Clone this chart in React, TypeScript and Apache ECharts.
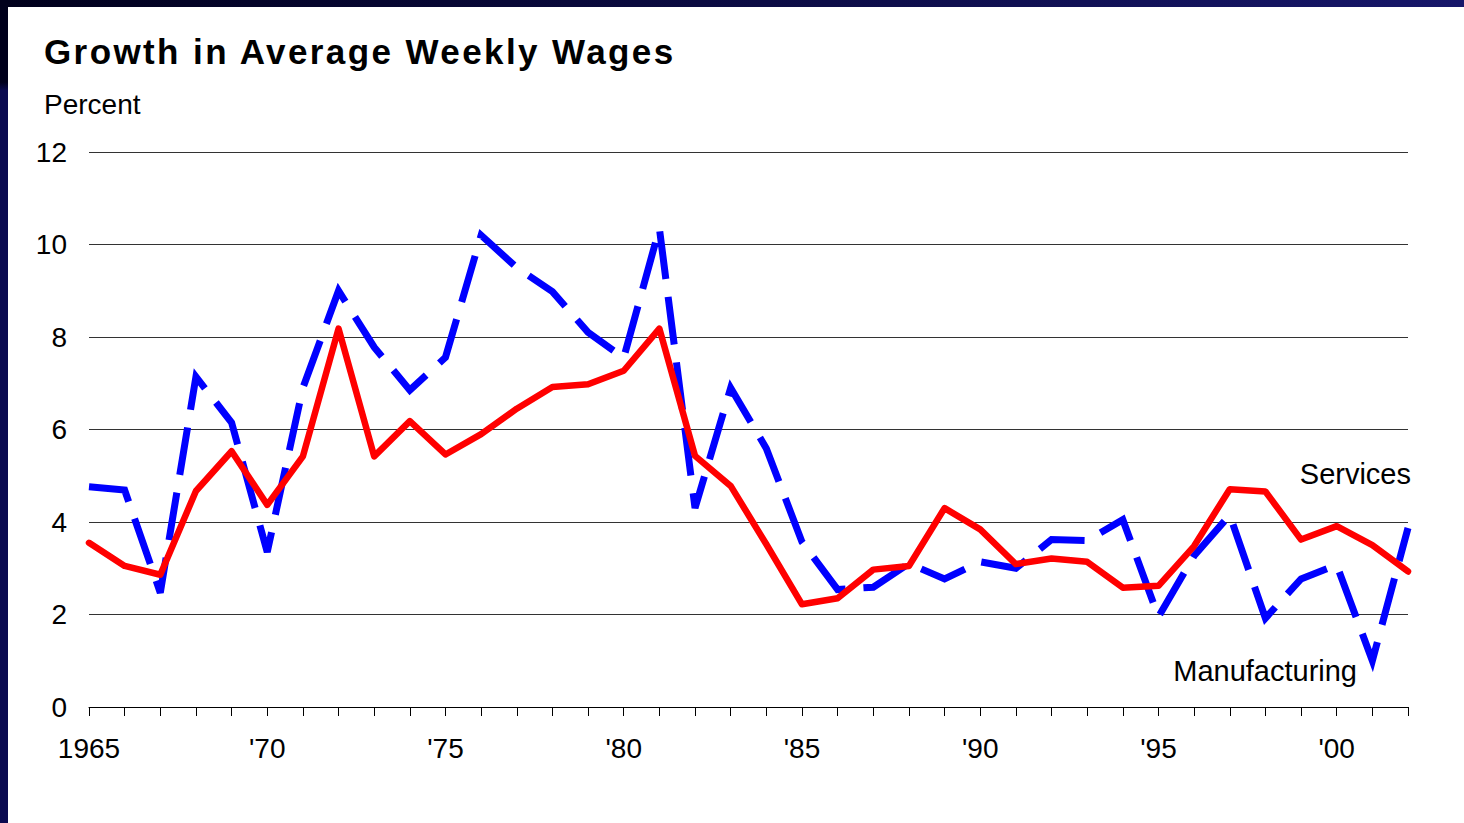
import React, { useEffect, useRef } from "react";
import * as echarts from "echarts";

const TITLE = "Growth in Average Weekly Wages";
const UNIT_LABEL = "Percent";

const years = [
  "1965", "1966", "1967", "1968", "1969", "1970", "1971", "1972", "1973", "1974",
  "1975", "1976", "1977", "1978", "1979", "1980", "1981", "1982", "1983", "1984",
  "1985", "1986", "1987", "1988", "1989", "1990", "1991", "1992", "1993", "1994",
  "1995", "1996", "1997", "1998", "1999", "2000", "2001", "2002",
];

const labeledYears: Record<string, string> = {
  "1965": "1965",
  "1970": "'70",
  "1975": "'75",
  "1980": "'80",
  "1985": "'85",
  "1990": "'90",
  "1995": "'95",
  "2000": "'00",
};

const services = [
  3.55, 3.05, 2.86, 4.67, 5.53, 4.37, 5.42, 8.18, 5.42, 6.18,
  5.46, 5.9, 6.45, 6.92, 6.98, 7.27, 8.18, 5.43, 4.78, 3.52,
  2.22, 2.35, 2.97, 3.05, 4.3, 3.84, 3.09, 3.21, 3.14, 2.58,
  2.62, 3.48, 4.71, 4.66, 3.62, 3.91, 3.5, 2.93,
];

const manufacturing = [
  4.76, 4.69, 2.47, 7.14, 6.15, 3.35, 6.9, 9.0, 7.78, 6.85,
  7.56, 10.2, 9.5, 8.98, 8.1, 7.55, 10.35, 4.3, 6.9, 5.59,
  3.57, 2.54, 2.59, 3.1, 2.77, 3.14, 3.0, 3.62, 3.6, 4.05,
  1.95, 3.27, 4.15, 1.92, 2.77, 3.07, 1.0, 3.87,
];

const FONT = "'Liberation Sans', Arial, sans-serif";

export default function App() {
  const ref = useRef<HTMLDivElement>(null);

  useEffect(() => {
    if (!ref.current) return;
    const chart = echarts.init(ref.current, null, { renderer: "svg" });
    const option: any = {
      animation: false,
      backgroundColor: "#ffffff",
      grid: { left: 89, right: 56, top: 152, bottom: 116, containLabel: false },
      xAxis: {
        type: "category",
        data: years,
        boundaryGap: false,
        axisLine: { show: true, lineStyle: { color: "#000000", width: 1 } },
        axisTick: {
          show: true,
          interval: 0,
          length: 9,
          inside: false,
          lineStyle: { color: "#000000", width: 1 },
        },
        axisLabel: {
          interval: (idx: number, val: string) => labeledYears[val] !== undefined,
          formatter: (val: string) => labeledYears[val] ?? "",
          color: "#000000",
          fontFamily: FONT,
          fontSize: 28,
          margin: 27,
        },
        splitLine: { show: false },
      },
      yAxis: {
        type: "value",
        min: 0,
        max: 12,
        interval: 2,
        axisLine: { show: false },
        axisTick: { show: false },
        axisLabel: {
          color: "#000000",
          fontFamily: FONT,
          fontSize: 28,
          margin: 22,
        },
        splitLine: { show: true, lineStyle: { color: "#333333", width: 1 } },
      },
      series: [
        {
          name: "Manufacturing",
          type: "line",
          data: manufacturing,
          symbol: "none",
          showSymbol: false,
          lineStyle: {
            color: "#0000ff",
            width: 7,
            type: [48, 18],
            dashOffset: 0,
            cap: "butt",
            join: "miter",
          },
          z: 2,
        },
        {
          name: "Services",
          type: "line",
          data: services,
          symbol: "none",
          showSymbol: false,
          lineStyle: { color: "#ff0000", width: 6.5, join: "round", cap: "round" },
          z: 3,
        },
      ],
      graphic: [
        {
          type: "rect",
          left: 0,
          top: 0,
          shape: { width: 1464, height: 7 },
          style: {
            fill: new echarts.graphic.LinearGradient(0, 0, 1, 0, [
              { offset: 0, color: "#00001c" },
              { offset: 1, color: "#17176a" },
            ]),
          },
          silent: true,
        },
        {
          type: "rect",
          left: 0,
          top: 0,
          shape: { width: 8, height: 823 },
          style: {
            fill: new echarts.graphic.LinearGradient(0, 0, 0, 1, [
              { offset: 0, color: "#00001c" },
              { offset: 0.1, color: "#00001c" },
              { offset: 0.11, color: "#0a0a50" },
              { offset: 1, color: "#0a0a50" },
            ]),
          },
          silent: true,
        },
        {
          type: "text",
          x: 44,
          y: 51,
          style: {
            text: TITLE,
            fill: "#000000",
            font: `bold 35px ${FONT}`,
            textAlign: "left",
            textVerticalAlign: "middle",
          },
          silent: true,
        },
        {
          type: "text",
          x: 44,
          y: 104,
          style: {
            text: UNIT_LABEL,
            fill: "#000000",
            font: `28px ${FONT}`,
            textAlign: "left",
            textVerticalAlign: "middle",
          },
          silent: true,
        },
        {
          type: "text",
          x: 1411,
          y: 474,
          style: {
            text: "Services",
            fill: "#000000",
            font: `29px ${FONT}`,
            textAlign: "right",
            textVerticalAlign: "middle",
          },
          silent: true,
        },
        {
          type: "text",
          x: 1357,
          y: 671,
          style: {
            text: "Manufacturing",
            fill: "#000000",
            font: `29px ${FONT}`,
            textAlign: "right",
            textVerticalAlign: "middle",
          },
          silent: true,
        },
      ],
    };
    chart.setOption(option);
    const texts = ref.current.querySelectorAll("text");
    texts.forEach((t) => {
      if (t.textContent === TITLE) t.setAttribute("letter-spacing", "2.4");
    });
    return () => chart.dispose();
  }, []);

  return (
    <div
      ref={ref}
      style={{ position: "absolute", left: 0, top: 0, width: 1464, height: 823, background: "#ffffff" }}
    />
  );
}
